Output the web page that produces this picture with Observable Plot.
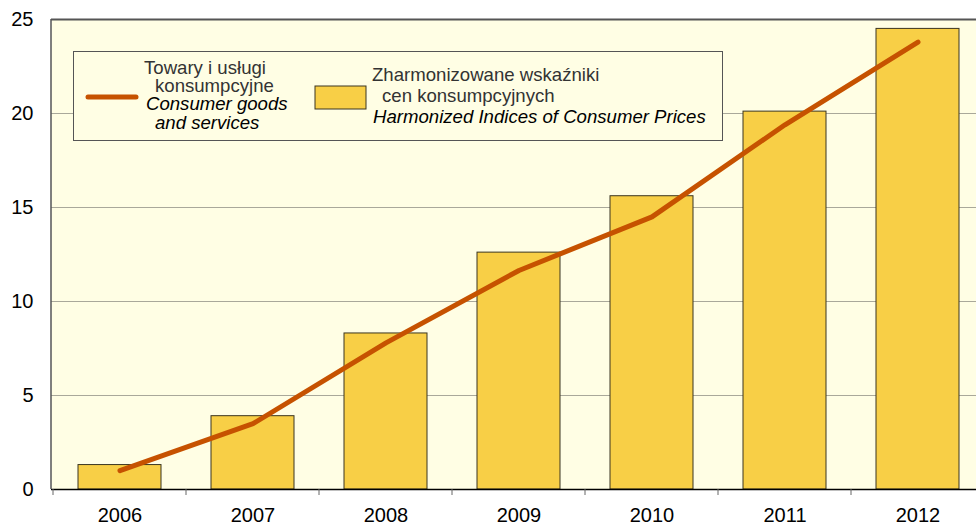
<!DOCTYPE html>
<html><head><meta charset="utf-8">
<script src="https://cdn.jsdelivr.net/npm/d3@7"></script>
<script src="https://cdn.jsdelivr.net/npm/@observablehq/plot@0.6"></script>
<style>body{margin:0;background:#fff}svg{display:block}</style>
</head><body><div id="chart"></div>
<script>
const years = ["2006","2007","2008","2009","2010","2011","2012"];
const hicp = [1.3, 3.9, 8.3, 12.6, 15.6, 20.1, 24.5];
const goods = [1.0, 3.5, 7.8, 11.65, 14.5, 19.4, 23.8];
const yTicks = [0, 5, 10, 15, 20, 25];
const legendLine = ["Towary i usługi", "konsumpcyjne", "Consumer goods", "and services"];
const legendBar = ["Zharmonizowane wskaźniki", "cen konsumpcyjnych", "Harmonized Indices of Consumer Prices"];

const data = years.map((y, i) => ({year: y, hicp: hicp[i], goods: goods[i]}));
const bg = "#fffee4", barFill = "#f8cf46", lineColor = "#c65200";
const FONT = "'Liberation Sans', Arial, sans-serif";

const plot = Plot.plot({
  width: 976, height: 525,
  marginTop: 19, marginBottom: 36, marginLeft: 51, marginRight: 0,
  style: {fontFamily: FONT, fontSize: "20px", color: "#000", background: "#fff"},
  x: {domain: years, range: [51, 985], padding: 0, label: null},
  y: {domain: [0, 25], ticks: yTicks, label: null},
  marks: [
    Plot.frame({fill: bg, stroke: "none"}),
    Plot.ruleY([5, 10, 15, 20], {stroke: "#a9a89a", strokeWidth: 1}),
    Plot.barY(data, {x: "year", y: "hicp", fill: barFill, stroke: "#3a3520", strokeWidth: 1, insetLeft: 25, insetRight: 25}),
    Plot.lineY(data, {x: "year", y: "goods", stroke: lineColor, strokeWidth: 5, strokeLinecap: "round", strokeLinejoin: "round"}),
    Plot.ruleY([25], {stroke: "#555", strokeWidth: 2}),
    Plot.ruleY([0], {stroke: "#000", strokeWidth: 1.5}),
    Plot.axisY({ticks: yTicks, tickSize: 0, tickPadding: 18, fontSize: 20, label: null}),
    Plot.axisX({tickSize: 0, tickPadding: 18, fontSize: 20, label: null})
  ]
});
document.getElementById("chart").appendChild(plot);

const svg = d3.select(plot);
const xs = plot.scale("x"), ys = plot.scale("y");
const y0 = ys.apply(0), yTop = ys.apply(25);
// left axis line
svg.append("line").attr("x1", 51).attr("x2", 51).attr("y1", yTop).attr("y2", y0)
  .attr("stroke", "#555").attr("stroke-width", 1.5);
// band boundary ticks
years.forEach((yr) => {
  const bx = xs.apply(yr);
  svg.append("line").attr("x1", bx).attr("x2", bx).attr("y1", y0).attr("y2", y0 + 6)
    .attr("stroke", "#666").attr("stroke-width", 1);
});

// legend
const lg = svg.append("g").attr("font-family", FONT).attr("font-size", 18.6).attr("text-anchor", "start");
lg.append("rect").attr("x", 73.5).attr("y", 51.5).attr("width", 649).attr("height", 89)
  .attr("fill", bg).attr("stroke", "#555").attr("stroke-width", 1);
lg.append("line").attr("x1", 88).attr("x2", 136).attr("y1", 97).attr("y2", 97)
  .attr("stroke", lineColor).attr("stroke-width", 5).attr("stroke-linecap", "round");
const lx = [144, 155, 146, 155], ly = [74, 92, 110, 129];
legendLine.forEach((t, i) => {
  lg.append("text").attr("x", lx[i]).attr("y", ly[i]).text(t).attr("text-anchor", "start")
    .attr("fill", i < 2 ? "#333" : "#000").attr("font-style", i < 2 ? "normal" : "italic");
});
lg.append("rect").attr("x", 315).attr("y", 86).attr("width", 51).attr("height", 23)
  .attr("fill", barFill).attr("stroke", "#3a3520").attr("stroke-width", 1);
const bx = [372, 382, 373], by = [81, 102, 123];
legendBar.forEach((t, i) => {
  lg.append("text").attr("x", bx[i]).attr("y", by[i]).text(t).attr("text-anchor", "start")
    .attr("fill", i < 2 ? "#333" : "#000").attr("font-style", i < 2 ? "normal" : "italic");
});
</script></body></html>
